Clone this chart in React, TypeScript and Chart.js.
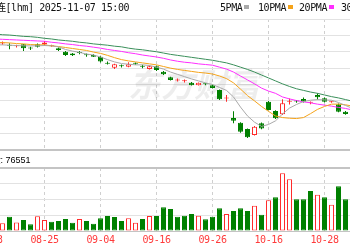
import { useEffect, useRef } from 'react';
import { Chart, registerables } from 'chart.js';

Chart.register(...registerables);

// ---------- data ----------
const dates = [
  '08-13', '08-14', '08-15', '08-18', '08-19', '08-20', '08-21', '08-22', '08-25', '08-26',
  '08-27', '08-28', '08-29', '09-01', '09-02', '09-03', '09-04', '09-05', '09-08', '09-09',
  '09-10', '09-11', '09-12', '09-15', '09-16', '09-17', '09-18', '09-19', '09-22', '09-23',
  '09-24', '09-25', '09-26', '09-29', '09-30', '10-09', '10-10', '10-13', '10-14', '10-15',
  '10-16', '10-17', '10-20', '10-21', '10-22', '10-23', '10-24', '10-27', '10-28', '10-29',
  '10-30', '10-31', '11-03',
];
const openP = [
  13.24, 13.27, 13.25, 13.19, 13.17, 13.23, 13.11, 13.23, 13.22, 13.17,
  13.11, 13.0, 12.95, 12.98, 12.91, 12.9, 12.85, 12.64, 12.51, 12.57,
  12.54, 12.65, 12.55, 12.47, 12.56, 12.39, 12.22, 12.12, 12.1, 12.05,
  11.98, 12.02, 11.98, 11.83, 11.57, 10.98, 10.83, 10.64, 10.46, 10.82,
  11.47, 11.19, 11.09, 11.47, 11.51, 11.56, 11.44, 11.68, 11.58, 11.46,
  11.4, 11.17, 10.99,
];
const highP = [
  13.28, 13.3, 13.31, 13.26, 13.21, 13.24, 13.15, 13.25, 13.33, 13.21,
  13.13, 13.02, 12.96, 13.02, 12.95, 12.92, 12.87, 12.7, 12.63, 12.61,
  12.68, 12.67, 12.6, 12.58, 12.58, 12.41, 12.24, 12.18, 12.15, 12.08,
  12.06, 12.04, 12.0, 11.85, 11.68, 11.18, 10.85, 10.66, 10.73, 10.84,
  11.5, 11.21, 11.55, 11.57, 11.53, 11.6, 11.48, 11.73, 11.6, 11.5,
  11.42, 11.19, 11.02,
];
const lowP = [
  13.2, 13.21, 13.21, 13.08, 13.13, 13.02, 13.05, 13.13, 13.19, 13.15,
  13.02, 12.87, 12.87, 12.92, 12.85, 12.84, 12.67, 12.61, 12.47, 12.52,
  12.53, 12.6, 12.5, 12.46, 12.41, 12.29, 12.12, 12.09, 12.06, 11.97,
  11.97, 11.98, 11.88, 11.53, 11.47, 10.82, 10.53, 10.37, 10.44, 10.63,
  11.21, 10.95, 11.07, 11.39, 11.44, 11.45, 11.4, 11.54, 11.45, 11.44,
  11.15, 11.08, 10.96,
];
const closeP = [
  13.27, 13.25, 13.26, 13.18, 13.19, 13.11, 13.1, 13.15, 13.28, 13.18,
  13.05, 12.9, 12.89, 12.96, 12.89, 12.85, 12.7, 12.63, 12.62, 12.56,
  12.62, 12.63, 12.54, 12.56, 12.44, 12.31, 12.14, 12.13, 12.11, 11.98,
  12.05, 12.01, 11.89, 11.55, 11.58, 10.89, 10.56, 10.39, 10.71, 10.66,
  11.22, 10.97, 11.43, 11.5, 11.48, 11.47, 11.45, 11.61, 11.47, 11.48,
  11.17, 11.1, 11.0,
];
const prevClose = 13.22;
const volume = [
  45000, 40000, 29300, 54500, 32400, 41900, 25900, 56000, 41900, 35400,
  38100, 45700, 31600, 45700, 38100, 27800, 48400, 57100, 53300, 38100,
  48400, 31600, 45700, 57100, 57100, 90300, 83800, 54500, 58300, 64800,
  58300, 44600, 54500, 86500, 64800, 76200, 86500, 76200, 96400, 62100,
  117300, 128400, 219800, 197000, 120800, 120800, 152400, 138300, 128400, 100200,
  170300, 120800, 175200,
];
const ma5 = [
  13.21, 13.21, 13.21, 13.2, 13.19, 13.18, 13.18, 13.18, 13.19, 13.18,
  13.15, 13.07, 13.02, 12.98, 12.93, 12.9, 12.84, 12.76, 12.69, 12.64,
  12.62, 12.6, 12.6, 12.58, 12.53, 12.47, 12.38, 12.31, 12.24, 12.17,
  12.11, 12.05, 12.0, 11.91, 11.82, 11.62, 11.31, 11.04, 10.85, 10.72,
  10.78, 10.89, 11.1, 11.28, 11.39, 11.48, 11.52, 11.54, 11.53, 11.52,
  11.45, 11.36, 11.27,
];
const ma10 = [
  13.3, 13.29, 13.28, 13.27, 13.25, 13.24, 13.22, 13.21, 13.21, 13.18,
  13.16, 13.13, 13.1, 13.07, 13.04, 12.99, 12.95, 12.89, 12.82, 12.76,
  12.72, 12.69, 12.66, 12.63, 12.6, 12.55, 12.5, 12.46, 12.43, 12.4,
  12.37, 12.35, 12.32, 12.26, 12.18, 12.05, 11.86, 11.66, 11.5, 11.33,
  11.18, 11.04, 10.99, 10.97, 10.96, 10.99, 11.11, 11.24, 11.33, 11.4,
  11.4, 11.38, 11.34,
];
const ma20 = [
  13.4, 13.39, 13.38, 13.37, 13.36, 13.35, 13.34, 13.33, 13.32, 13.29,
  13.27, 13.24, 13.22, 13.19, 13.17, 13.14, 13.11, 13.07, 13.04, 13.01,
  12.97, 12.94, 12.9, 12.87, 12.84, 12.8, 12.75, 12.71, 12.68, 12.66,
  12.63, 12.61, 12.59, 12.53, 12.47, 12.38, 12.26, 12.14, 12.02, 11.89,
  11.8, 11.73, 11.62, 11.56, 11.51, 11.47, 11.44, 11.4, 11.37, 11.34,
  11.3, 11.27, 11.22,
];
const ma30 = [
  13.56, 13.54, 13.52, 13.51, 13.49, 13.47, 13.46, 13.44, 13.41, 13.39,
  13.36, 13.34, 13.32, 13.29, 13.27, 13.24, 13.22, 13.2, 13.17, 13.15,
  13.11, 13.08, 13.06, 13.03, 13.0, 12.96, 12.92, 12.89, 12.86, 12.83,
  12.8, 12.77, 12.74, 12.7, 12.66, 12.6, 12.53, 12.46, 12.38, 12.29,
  12.2, 12.11, 12.02, 11.94, 11.87, 11.82, 11.77, 11.73, 11.68, 11.63,
  11.59, 11.54, 11.49,
];
const tickIndex = [0, 8, 16, 24, 32, 40, 48];
const maLabels = ['5PMA', '10PMA', '20PMA', '30PMA'];
const titleText = '连[lhm] 2025-11-07 15:00';
const volumePrefix = '成交量';
const lastVolume = '76551';
const watermark = '东方财富';
const priceMin = 10;
const priceMax = 14;
const priceStep = 0.5;
const volMax = 240000;
const volStep = 60000;

// ---------- styles ----------
const RED = '#ff2b2b';
const GREEN = '#008000';
const MA_COLORS = ['#a9a9a9', '#f5a31a', '#ff2eff', '#3a8f5a'];
const OFFSET = 40; // canvas is shifted left by this many px
const CANVAS_W = 399;
const X_MIN = -28.5 / 7;
const X_MAX = X_MIN + CANVAS_W / 7;
const MONO = '10px "DejaVu Sans Mono", "Noto Sans CJK SC", monospace';
const LETTER = '-0.4px';

const idx = dates.map((_, k) => k);
const prevOf = (k: number) => (k === 0 ? prevClose : closeP[k - 1]);
const candleUp = (k: number) =>
  closeP[k] > openP[k] || (closeP[k] === openP[k] && closeP[k] >= prevOf(k));
const volUp = (k: number) => closeP[k] >= prevOf(k);

const xScale = (showTicks: boolean) => ({
  type: 'linear',
  bounds: 'data',
  min: X_MIN,
  max: X_MAX,
  offset: false,
  afterBuildTicks: (s: any) => {
    s.ticks = tickIndex.map((v) => ({ value: v }));
  },
  grid: { offset: false, color: '#cfcfcf', lineWidth: 1, drawTicks: false },
  border: { display: false, dash: [3, 3] },
  ticks: {
    display: showTicks,
    autoSkip: false,
    maxRotation: 0,
    padding: 3.5,
    color: '#ff3b3b',
    font: { family: '"DejaVu Sans Mono", monospace', size: 10 },
    callback: (v: any) => dates[v] ?? '',
  },
});

const mainDecor = {
  id: 'mainDecor',
  beforeDraw(chart: any) {
    chart.ctx.letterSpacing = LETTER;
  },
  beforeDatasetsDraw(chart: any) {
    const ctx = chart.ctx;
    ctx.save();
    ctx.letterSpacing = '0px';
    ctx.font = 'italic bold 33px "Noto Sans CJK SC", sans-serif';
    ctx.fillStyle = 'rgba(0,0,0,0.07)';
    ctx.textBaseline = 'alphabetic';
    ctx.fillText(watermark, 128 + OFFSET, 97);
    ctx.restore();
  },
  afterDraw(chart: any) {
    const ctx = chart.ctx;
    ctx.save();
    ctx.font = MONO;
    ctx.letterSpacing = LETTER;
    ctx.fillStyle = '#111';
    ctx.textBaseline = 'middle';
    const cut = titleText.indexOf('[');
    const lead = titleText.slice(0, cut);
    const rest = titleText.slice(cut);
    ctx.textAlign = 'right';
    ctx.fillText(lead, 5.5 + OFFSET, 8);
    ctx.textAlign = 'left';
    ctx.fillText(rest, 5.5 + OFFSET, 8);
    const lx = [220, 258, 299, 341];
    maLabels.forEach((lab, i) => {
      const x = lx[i] + OFFSET;
      ctx.fillStyle = '#111';
      ctx.fillText(lab, x, 8);
      const w = ctx.measureText(lab).width;
      ctx.fillStyle = MA_COLORS[i];
      ctx.fillRect(Math.round(x + w + 2), 5, 5, 4);
    });
    ctx.restore();
  },
};

const volDecor = {
  id: 'volDecor',
  beforeDraw(chart: any) {
    chart.ctx.letterSpacing = LETTER;
  },
  afterDraw(chart: any) {
    const ctx = chart.ctx;
    ctx.save();
    ctx.letterSpacing = '0px';
    ctx.font = '9px "Liberation Sans", Arial, sans-serif';
    ctx.fillStyle = '#000';
    ctx.textBaseline = 'middle';
    ctx.textAlign = 'right';
    ctx.fillText(volumePrefix, 0.5 + OFFSET, 9);
    ctx.textAlign = 'left';
    ctx.fillText(': ' + lastVolume, 0.5 + OFFSET, 9);
    ctx.restore();
  },
};

export default function App() {
  const mainRef = useRef<HTMLCanvasElement>(null);
  const volRef = useRef<HTMLCanvasElement>(null);

  useEffect(() => {
    const main = new Chart(mainRef.current as HTMLCanvasElement, {
      type: 'bar',
      data: {
        datasets: [
          {
            type: 'bar',
            data: idx.map((k) => ({ x: k, y: [lowP[k], highP[k]] })),
            backgroundColor: idx.map((k) => (candleUp(k) ? RED : GREEN)),
            borderWidth: 0,
            barThickness: 1,
            grouped: false,
            inflateAmount: 0,
            order: 6,
          } as any,
          {
            type: 'bar',
            data: idx.map((k) => ({ x: k, y: [openP[k], closeP[k]] })),
            backgroundColor: idx.map((k) => (candleUp(k) ? '#ffffff' : GREEN)),
            borderColor: idx.map((k) => (candleUp(k) ? RED : GREEN)),
            borderWidth: 1,
            borderSkipped: false,
            barThickness: 5,
            minBarLength: 1,
            grouped: false,
            inflateAmount: 0,
            order: 5,
          } as any,
          ...[ma30, ma20, ma10, ma5].map((arr, j) => ({
            type: 'line',
            data: idx.map((k) => ({ x: k, y: arr[k] })),
            borderColor: MA_COLORS[3 - j],
            borderWidth: 1,
            pointRadius: 0,
            tension: 0,
            fill: false,
            order: 4 - j,
          })) as any,
        ],
      },
      options: {
        responsive: false,
        animation: false,
        devicePixelRatio: 1,
        events: [],
        layout: { padding: { top: 19, bottom: 2, left: 0, right: 0 } },
        plugins: { legend: { display: false }, tooltip: { enabled: false } },
        scales: {
          x: xScale(false) as any,
          y: {
            type: 'linear',
            min: priceMin,
            max: priceMax,
            beginAtZero: false,
            ticks: { display: false, stepSize: priceStep },
            grid: {
              drawTicks: false,
              color: (c: any) => (c.tick && c.tick.value === priceMin ? '#c4c4c4' : '#e2e2e2'),
              lineWidth: (c: any) => (c.tick && c.tick.value === priceMin ? 2 : 1),
            },
            border: { display: false },
          },
        },
      } as any,
      plugins: [mainDecor],
    });

    const vol = new Chart(volRef.current as HTMLCanvasElement, {
      type: 'bar',
      data: {
        datasets: [
          {
            data: idx.map((k) => ({ x: k, y: volume[k] })),
            backgroundColor: idx.map((k) => (volUp(k) ? '#ffffff' : GREEN)),
            borderColor: idx.map((k) => (volUp(k) ? RED : GREEN)),
            borderWidth: 1,
            borderSkipped: false,
            barThickness: 5,
            grouped: false,
            inflateAmount: 0,
          } as any,
        ],
      },
      options: {
        responsive: false,
        animation: false,
        devicePixelRatio: 1,
        events: [],
        layout: { padding: { top: 16, bottom: 0, left: 0, right: 0 } },
        plugins: { legend: { display: false }, tooltip: { enabled: false } },
        scales: {
          x: xScale(true) as any,
          y: {
            type: 'linear',
            min: 0,
            max: volMax,
            ticks: { display: false, stepSize: volStep },
            grid: {
              drawTicks: false,
              color: (c: any) =>
                c.tick && (c.tick.value === volMax || c.tick.value === 0) ? '#c4c4c4' : '#e2e2e2',
              lineWidth: (c: any) => (c.tick && c.tick.value === volMax ? 2 : 1),
            },
            border: { display: false },
          },
        },
      } as any,
      plugins: [volDecor],
    });

    return () => {
      main.destroy();
      vol.destroy();
    };
  }, []);

  return (
    <div
      style={{
        position: 'fixed',
        left: 0,
        top: 0,
        width: 350,
        height: 250,
        overflow: 'hidden',
        background: '#ffffff',
      }}
    >
      <canvas
        ref={mainRef}
        width={CANVAS_W}
        height={152}
        style={{ position: 'absolute', left: -OFFSET, top: 0 }}
      />
      <canvas
        ref={volRef}
        width={CANVAS_W}
        height={98}
        style={{ position: 'absolute', left: -OFFSET, top: 152 }}
      />
    </div>
  );
}
